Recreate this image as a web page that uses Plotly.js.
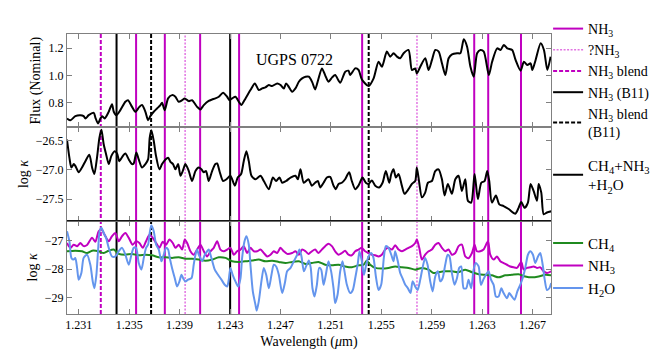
<!DOCTYPE html>
<html>
<head>
<meta charset="utf-8">
<script src="https://cdn.plot.ly/plotly-3.0.1.min.js"></script>
<style>
  html, body { margin: 0; padding: 0; background: white; }
  #chart { width: 672px; height: 350px; }
</style>
</head>
<body>
<div id="chart"></div>
<script>
// UGPS 0722 spectrum (top), total opacity (middle), per-molecule opacity (bottom)

const fluxWave = [1.23007, 1.23034, 1.23073, 1.23113, 1.23139, 1.23153, 1.23179, 1.23219, 1.23232, 1.23253,
    1.23272, 1.23285, 1.23306, 1.23338, 1.23364, 1.23378, 1.23399, 1.2343, 1.2347, 1.23491,
    1.23523, 1.23549, 1.23581, 1.23602, 1.23629, 1.2365, 1.23668, 1.23695, 1.23721, 1.23748,
    1.23761, 1.23782, 1.23809, 1.2384, 1.23867, 1.23893, 1.2392, 1.23941, 1.23973, 1.23999,
    1.24039, 1.24065, 1.24092, 1.24131, 1.24158, 1.24184, 1.24211, 1.24245, 1.24277, 1.24296,
    1.24317, 1.24343, 1.2437, 1.24389, 1.24423, 1.24462, 1.24497, 1.24528, 1.24555, 1.24581,
    1.24608, 1.24634, 1.24674, 1.24701, 1.24727, 1.24745, 1.24766, 1.24793, 1.24819, 1.24846,
    1.24872, 1.24899, 1.24925, 1.24952, 1.24975, 1.25, 1.25029, 1.25055, 1.25081, 1.2511,
    1.25134, 1.25174, 1.25214, 1.2524, 1.25253, 1.25293, 1.2532, 1.25346, 1.25399, 1.25439,
    1.25478, 1.25505, 1.25544, 1.25571, 1.25597, 1.25624, 1.2565, 1.25677, 1.25716, 1.25743,
    1.25769, 1.25782, 1.25809, 1.25849, 1.25875, 1.25902, 1.25928, 1.25955, 1.25981, 1.26008,
    1.26034, 1.26061, 1.26101, 1.26127, 1.26154, 1.2618, 1.26207, 1.26233, 1.2626, 1.26286,
    1.26313, 1.26353, 1.26379, 1.26419, 1.26446, 1.26472, 1.26499, 1.26538, 1.26565, 1.26605,
    1.26631, 1.26658, 1.26684, 1.26698, 1.26724, 1.26764, 1.2679, 1.26817, 1.26843];
const fluxValue = [0.684, 0.671, 0.701, 0.708, 0.701, 0.684, 0.708, 0.725, 0.691, 0.647,
    0.684, 0.701, 0.684, 0.733, 0.789, 0.733, 0.708, 0.745, 0.806, 0.818,
    0.769, 0.733, 0.769, 0.782, 0.733, 0.671, 0.701, 0.733, 0.757, 0.782,
    0.799, 0.745, 0.831, 0.855, 0.843, 0.806, 0.818, 0.831, 0.811, 0.818,
    0.769, 0.750, 0.782, 0.813, 0.823, 0.831, 0.843, 0.872, 0.843, 0.818,
    0.831, 0.843, 0.806, 0.782, 0.831, 0.892, 0.941, 0.892, 0.904, 0.912,
    0.929, 0.921, 0.941, 0.929, 0.904, 0.941, 0.916, 0.880, 0.904, 0.953,
    0.978, 0.990, 0.990, 0.950, 0.897, 0.970, 1.051, 1.000, 0.953, 0.985,
    1.002, 0.946, 1.027, 1.034, 1.002, 1.051, 1.039, 0.970, 0.921, 0.978,
    1.100, 1.063, 1.174, 1.137, 1.162, 1.137, 1.125, 1.162, 1.186, 1.039,
    1.051, 1.014, 1.063, 1.125, 1.039, 1.113, 1.186, 1.174, 1.088, 1.002,
    1.125, 1.154, 1.162, 1.162, 1.264, 1.211, 1.063, 0.990, 1.162, 1.186,
    1.174, 1.002, 1.100, 1.198, 1.186, 1.223, 1.198, 1.186, 1.113, 1.034,
    1.100, 1.076, 1.088, 1.039, 1.113, 1.235, 1.186, 1.039, 1.137];

const totWave = [1.23007, 1.23026, 1.23042, 1.23061, 1.23073, 1.231, 1.23126, 1.23153, 1.23184, 1.23206,
    1.23224, 1.23245, 1.23264, 1.2328, 1.23298, 1.23317, 1.23338, 1.23359, 1.23385, 1.23404,
    1.23422, 1.23444, 1.2347, 1.23497, 1.23523, 1.23536, 1.23557, 1.23576, 1.23602, 1.23629,
    1.2365, 1.23663, 1.23676, 1.23695, 1.23713, 1.2374, 1.23761, 1.23788, 1.23809, 1.23827,
    1.23848, 1.23867, 1.23888, 1.23907, 1.23925, 1.23946, 1.23973, 1.23999, 1.24026, 1.24052,
    1.24073, 1.24092, 1.2411, 1.24131, 1.24158, 1.24184, 1.24198, 1.24219, 1.24245, 1.24272,
    1.24303, 1.24338, 1.24361, 1.24388, 1.24409, 1.2443, 1.24449, 1.2447, 1.24502, 1.24542,
    1.24568, 1.24608, 1.2464, 1.24666, 1.24692, 1.24714, 1.24745, 1.2478, 1.24819, 1.24838,
    1.24859, 1.24885, 1.24922, 1.24949, 1.24975, 1.24997, 1.25015, 1.25042, 1.25068, 1.25094,
    1.25121, 1.25139, 1.25161, 1.25187, 1.25213, 1.25245, 1.25266, 1.25293, 1.25319, 1.25351,
    1.25377, 1.25399, 1.25425, 1.25452, 1.25483, 1.2551, 1.25536, 1.25563, 1.25579, 1.25597,
    1.25616, 1.25637, 1.25663, 1.25684, 1.25716, 1.25743, 1.25769, 1.25782, 1.25801, 1.25822,
    1.25848, 1.2587, 1.25901, 1.25928, 1.25954, 1.25981, 1.26002, 1.26028, 1.2606, 1.26087,
    1.26113, 1.26139, 1.26166, 1.26187, 1.26213, 1.2624, 1.26266, 1.26293, 1.26319, 1.2634,
    1.26356, 1.26377, 1.26409, 1.26436, 1.2647, 1.2651, 1.26563, 1.26589, 1.2661, 1.26637,
    1.26663, 1.26684, 1.26708, 1.26735, 1.26748, 1.26769, 1.26788, 1.26814, 1.26848];
const totKappa = [-26.48, -26.79, -26.96, -26.90, -26.93, -27.04, -26.96, -26.85, -26.74, -26.96,
    -27.07, -26.79, -26.45, -26.31, -26.56, -26.73, -26.90, -26.76, -26.68, -26.72,
    -26.85, -26.78, -26.72, -26.82, -26.90, -26.89, -26.70, -26.82, -26.96, -26.90,
    -26.82, -26.45, -26.32, -26.50, -26.76, -26.99, -26.90, -26.82, -26.79, -26.86,
    -26.90, -26.99, -26.90, -27.10, -27.02, -26.90, -27.02, -27.19, -27.02, -26.96,
    -26.99, -27.04, -27.02, -27.19, -27.02, -26.90, -26.89, -27.04, -27.19, -27.16,
    -27.10, -27.27, -27.13, -27.07, -26.85, -26.68, -26.85, -27.10, -27.16, -27.10,
    -27.19, -27.33, -27.13, -27.19, -27.13, -27.22, -27.19, -27.13, -27.10, -27.16,
    -26.99, -27.22, -27.16, -27.27, -27.22, -27.19, -27.30, -27.22, -27.13, -27.12,
    -27.27, -27.33, -27.24, -27.22, -27.16, -27.04, -27.19, -27.33, -27.27, -27.13,
    -27.22, -27.24, -27.18, -27.27, -27.30, -27.22, -27.02, -27.22, -27.07, -26.99,
    -27.13, -27.07, -27.27, -27.41, -27.33, -27.24, -27.19, -26.96, -27.22, -27.47,
    -27.39, -27.22, -27.19, -27.02, -26.99, -27.16, -27.44, -27.24, -27.41, -27.16,
    -27.10, -27.36, -27.16, -27.53, -27.56, -27.07, -27.50, -27.22, -27.19, -27.02,
    -27.19, -27.56, -27.44, -27.59, -27.62, -27.67, -27.75, -27.65, -27.55, -27.65,
    -27.56, -27.24, -27.36, -27.53, -27.24, -27.39, -27.76, -27.73, -27.71];

const ch4Wave = [1.23007, 1.23073, 1.23126, 1.23166, 1.23206, 1.23258, 1.23298, 1.23338, 1.23378, 1.23417,
    1.2347, 1.23523, 1.23576, 1.23629, 1.23682, 1.23735, 1.23788, 1.2384, 1.23893, 1.23946,
    1.23999, 1.24052, 1.24105, 1.24158, 1.24211, 1.24264, 1.24317, 1.2437, 1.24423, 1.24475,
    1.24528, 1.24581, 1.24634, 1.24687, 1.2474, 1.24793, 1.24846, 1.24899, 1.24949, 1.25002,
    1.25055, 1.25108, 1.25161, 1.25213, 1.25266, 1.25319, 1.25359, 1.25385, 1.25412, 1.25452,
    1.25504, 1.25557, 1.2561, 1.25663, 1.25716, 1.25769, 1.25822, 1.25875, 1.25915, 1.25954,
    1.26007, 1.2606, 1.26113, 1.26166, 1.26219, 1.26272, 1.26325, 1.26377, 1.2643, 1.26483,
    1.26536, 1.26589, 1.26642, 1.26695, 1.26748, 1.26801, 1.26848];
const ch4Kappa = [-27.38, -27.36, -27.38, -27.44, -27.36, -27.38, -27.44, -27.36, -27.32, -27.47,
    -27.50, -27.47, -27.52, -27.50, -27.52, -27.59, -27.59, -27.61, -27.59, -27.64,
    -27.64, -27.67, -27.71, -27.67, -27.59, -27.61, -27.73, -27.75, -27.73, -27.70,
    -27.67, -27.73, -27.71, -27.75, -27.79, -27.75, -27.73, -27.82, -27.79, -27.75,
    -27.85, -27.87, -27.85, -27.91, -27.94, -27.87, -27.85, -27.71, -27.85, -27.96,
    -27.98, -27.96, -27.91, -27.94, -27.96, -28.02, -27.96, -28.02, -28.14, -28.11,
    -28.08, -28.08, -28.11, -28.02, -28.11, -28.18, -28.20, -28.22, -28.29, -28.22,
    -28.20, -28.18, -28.26, -28.29, -28.26, -28.20, -28.22];

const nh3Wave = [1.23007, 1.23034, 1.2306, 1.23087, 1.23113, 1.23139, 1.23166, 1.23206, 1.23232, 1.23258,
    1.2328, 1.23311, 1.23338, 1.23364, 1.23391, 1.23417, 1.23444, 1.2347, 1.23497, 1.23528,
    1.23555, 1.23581, 1.23608, 1.23634, 1.23661, 1.23687, 1.23714, 1.2374, 1.23766, 1.23793,
    1.23819, 1.23846, 1.23867, 1.23893, 1.2392, 1.23941, 1.2396, 1.23986, 1.24012, 1.24039,
    1.24065, 1.24092, 1.24118, 1.24145, 1.24171, 1.24198, 1.24224, 1.24251, 1.24277, 1.24303,
    1.2433, 1.24356, 1.24383, 1.24409, 1.24436, 1.24462, 1.24489, 1.24515, 1.24542, 1.24568,
    1.24595, 1.24621, 1.24647, 1.24674, 1.247, 1.24727, 1.24753, 1.24793, 1.24819, 1.24846,
    1.24872, 1.24899, 1.24922, 1.24949, 1.24975, 1.25002, 1.25028, 1.25055, 1.25081, 1.25108,
    1.25134, 1.25161, 1.25187, 1.25213, 1.2524, 1.25266, 1.25293, 1.25319, 1.25346, 1.25372,
    1.25399, 1.25425, 1.25452, 1.25478, 1.25504, 1.25531, 1.25557, 1.25584, 1.2561, 1.25637,
    1.25663, 1.2569, 1.25716, 1.25743, 1.25769, 1.25782, 1.25801, 1.25822, 1.25848, 1.25875,
    1.25901, 1.25928, 1.25954, 1.25981, 1.26007, 1.26034, 1.2606, 1.26087, 1.26113, 1.26139,
    1.26166, 1.26192, 1.26219, 1.2624, 1.26258, 1.26285, 1.26311, 1.26346, 1.26364, 1.26391,
    1.26417, 1.26444, 1.2647, 1.26497, 1.26523, 1.26549, 1.26576, 1.2661, 1.26629, 1.26655,
    1.26682, 1.26708, 1.26735, 1.26761, 1.26788, 1.26814, 1.26848];
const nh3Kappa = [-27.09, -27.26, -27.15, -27.20, -27.09, -27.20, -27.16, -26.91, -27.05, -26.68,
    -26.62, -26.85, -27.03, -26.85, -26.74, -27.03, -26.85, -26.74, -26.91, -27.15,
    -27.03, -27.09, -27.26, -27.03, -26.80, -26.91, -27.09, -27.26, -27.05, -27.15,
    -26.97, -27.09, -27.26, -27.15, -27.32, -26.97, -27.09, -27.38, -27.50, -27.32,
    -27.15, -27.38, -27.56, -27.38, -27.26, -27.03, -27.32, -27.38, -27.32, -27.26,
    -27.50, -27.38, -27.32, -27.20, -27.44, -27.26, -27.38, -27.38, -27.32, -27.44,
    -27.56, -27.50, -27.38, -27.44, -27.26, -27.38, -27.47, -27.44, -27.38, -27.50,
    -27.32, -27.38, -27.47, -27.38, -27.32, -27.44, -27.32, -27.20, -27.12, -27.20,
    -27.38, -27.50, -27.44, -27.36, -27.50, -27.52, -27.38, -27.32, -27.26, -27.38,
    -27.44, -27.50, -27.52, -27.56, -27.50, -27.32, -27.26, -27.32, -27.17, -27.32,
    -27.38, -27.32, -27.26, -27.20, -27.09, -26.97, -27.26, -27.67, -27.50, -27.38,
    -27.32, -27.15, -27.09, -27.26, -27.38, -27.32, -27.50, -27.44, -27.20, -27.15,
    -27.56, -27.62, -27.44, -27.15, -27.38, -27.38, -27.32, -27.03, -27.50, -27.67,
    -27.56, -27.73, -27.79, -27.85, -27.91, -27.94, -27.96, -27.75, -28.02, -27.96,
    -27.94, -27.91, -27.96, -27.94, -28.08, -28.14, -28.08];

const h2oWave = [1.23007, 1.23026, 1.23042, 1.2306, 1.23073, 1.23087, 1.231, 1.23121, 1.23139, 1.23166,
    1.23192, 1.23211, 1.23224, 1.2324, 1.23253, 1.23266, 1.2328, 1.23298, 1.23317, 1.23338,
    1.23364, 1.23391, 1.23417, 1.23444, 1.2347, 1.23497, 1.23518, 1.23536, 1.23555, 1.23576,
    1.23597, 1.23616, 1.23634, 1.2365, 1.23663, 1.23676, 1.23695, 1.23714, 1.23735, 1.23756,
    1.23774, 1.23793, 1.23809, 1.23822, 1.2384, 1.23862, 1.2388, 1.23899, 1.23915, 1.23928,
    1.23946, 1.23967, 1.23994, 1.24012, 1.24026, 1.24039, 1.24052, 1.24065, 1.24079, 1.241,
    1.24118, 1.24131, 1.24152, 1.24179, 1.24205, 1.24232, 1.24258, 1.24277, 1.2429, 1.24303,
    1.24321, 1.24343, 1.24365, 1.24383, 1.24396, 1.24415, 1.2443, 1.24449, 1.24462, 1.24481,
    1.24502, 1.24512, 1.24528, 1.24549, 1.24568, 1.24587, 1.24608, 1.24629, 1.24647, 1.24666,
    1.24687, 1.24714, 1.24735, 1.24753, 1.2478, 1.24806, 1.24833, 1.24851, 1.24867, 1.24886,
    1.24904, 1.24925, 1.2494, 1.24954, 1.2497, 1.24989, 1.25007, 1.25023, 1.25042, 1.2506,
    1.25081, 1.25102, 1.25121, 1.25134, 1.25153, 1.25174, 1.25192, 1.25208, 1.25227, 1.25253,
    1.25274, 1.25293, 1.25314, 1.25327, 1.25346, 1.25362, 1.2538, 1.25399, 1.2542, 1.25438,
    1.25457, 1.25478, 1.25499, 1.2552, 1.25536, 1.25557, 1.25579, 1.25597, 1.2561, 1.25631,
    1.2565, 1.25668, 1.2569, 1.25711, 1.25732, 1.25748, 1.25769, 1.25788, 1.25809, 1.25827,
    1.25848, 1.25867, 1.25888, 1.25907, 1.25928, 1.25949, 1.25967, 1.25986, 1.26007, 1.26026,
    1.26041, 1.2606, 1.26081, 1.261, 1.26118, 1.26134, 1.26153, 1.26174, 1.26192, 1.26213,
    1.26232, 1.2625, 1.26272, 1.2629, 1.26309, 1.2633, 1.26351, 1.2637, 1.26391, 1.26409,
    1.2643, 1.26452, 1.2647, 1.26497, 1.26515, 1.26536, 1.26557, 1.26579, 1.26602, 1.26621,
    1.26642, 1.26663, 1.26682, 1.26703, 1.26721, 1.26743, 1.26761, 1.2678, 1.26796, 1.26814,
    1.26833, 1.26848];
const h2oKappa = [-26.68, -27.03, -27.61, -27.67, -27.61, -27.96, -28.37, -28.14, -27.61, -27.50,
    -27.85, -28.43, -28.67, -28.20, -27.38, -26.68, -26.56, -26.74, -26.91, -27.26,
    -27.56, -27.56, -27.38, -27.26, -27.50, -27.85, -27.50, -27.26, -27.26, -27.79,
    -28.02, -27.61, -27.26, -27.15, -26.74, -26.47, -26.68, -27.15, -27.32, -27.73,
    -27.50, -27.26, -27.32, -27.61, -27.96, -28.32, -28.61, -28.43, -28.20, -28.32,
    -28.43, -28.37, -28.32, -27.85, -27.50, -27.32, -27.50, -27.61, -27.73, -27.50,
    -27.38, -27.32, -27.61, -28.02, -28.20, -28.37, -28.55, -28.61, -28.37, -27.96,
    -28.20, -28.43, -28.61, -28.32, -27.61, -27.03, -26.85, -27.15, -27.85, -28.78,
    -29.25, -29.45, -29.13, -28.43, -27.96, -28.20, -28.67, -28.20, -27.85, -27.91,
    -28.20, -28.84, -28.49, -28.08, -27.96, -27.73, -27.50, -27.32, -27.56, -28.08,
    -27.90, -27.70, -27.95, -28.67, -28.96, -28.55, -27.96, -28.02, -28.55, -28.20,
    -27.73, -28.08, -28.67, -29.19, -28.90, -28.08, -27.73, -28.08, -28.55, -28.84,
    -28.73, -28.32, -27.79, -27.38, -27.73, -28.20, -27.85, -27.56, -27.44, -27.61,
    -28.26, -28.73, -28.55, -27.61, -27.20, -27.26, -27.50, -27.73, -27.38, -27.73,
    -28.14, -28.32, -28.55, -28.67, -28.84, -28.43, -28.61, -28.73, -28.37, -27.96,
    -27.61, -27.85, -28.43, -28.78, -28.26, -28.08, -28.43, -28.32, -27.85, -27.50,
    -27.56, -28.14, -28.55, -28.32, -27.96, -27.91, -28.67, -28.67, -28.37, -28.67,
    -28.02, -27.79, -27.91, -28.55, -28.37, -28.20, -28.08, -28.37, -28.55, -28.96,
    -28.96, -28.67, -28.84, -29.02, -28.84, -28.96, -29.07, -28.78, -28.55, -28.32,
    -27.96, -27.50, -27.38, -27.50, -27.79, -27.56, -27.44, -27.85, -28.37, -28.73,
    -28.67, -28.49];

// line identifications (vertical markers)
const nh3Lines = [1.23555, 1.23783, 1.24063, 1.24372, 1.25348, 1.26237, 1.26348, 1.26608];
const nh3QueryLines = [1.23944, 1.25783];
const nh3BlendLines = [1.23275];
const b11Lines = [1.2340, 1.24301];
const b11BlendLines = [1.23674, 1.2540];

const MAGENTA = '#c000c0';
const VIOLET = '#e273e2';
const GREEN = '#1f8a1f';
const BLUE = '#6495ed';
const FRAME = '#808080';
const FONT = 'Liberation Serif, Times New Roman, serif';

const markerStyles = [
    { lines: nh3Lines, name: 'NH<sub>3</sub>', color: MAGENTA, dash: 'solid', width: 2 },
    { lines: nh3QueryLines, name: '?NH<sub>3</sub>', color: VIOLET, dash: '2px,1.5px', width: 1.5 },
    { lines: nh3BlendLines, name: 'NH<sub>3</sub> blend', color: MAGENTA, dash: '4px,2px', width: 2 },
    { lines: b11Lines, name: 'NH<sub>3</sub> (B11)', color: 'black', dash: 'solid', width: 2 },
    { lines: b11BlendLines, name: 'NH<sub>3</sub> blend<br>(B11)', color: 'black', dash: '4px,2px', width: 2 }
];

const shapes = [];
markerStyles.forEach(s => {
    s.lines.forEach(w => {
        shapes.push({
            type: 'line', xref: 'x', yref: 'paper',
            x0: w, x1: w, y0: 0, y1: 1,
            line: { color: s.color, width: s.width, dash: s.dash },
            layer: 'below'
        });
    });
});
// darker border between middle and bottom panel
shapes.push({
    type: 'line', xref: 'paper', yref: 'paper', x0: 0, x1: 1, y0: 1 / 3, y1: 1 / 3,
    line: { color: 'black', width: 1 }
});

const traces = [];

traces.push({
    x: fluxWave, y: fluxValue, xaxis: 'x', yaxis: 'y',
    type: 'scatter', mode: 'lines', showlegend: false,
    line: { color: 'black', width: 2, shape: 'spline', smoothing: 0.7 }
});

// legend entries for the identification lines
markerStyles.forEach(s => {
    traces.push({
        x: [null], y: [null], xaxis: 'x', yaxis: 'y',
        type: 'scatter', mode: 'lines', name: s.name, legend: 'legend',
        line: { color: s.color, width: s.width, dash: s.dash }
    });
});

traces.push({
    x: totWave, y: totKappa, xaxis: 'x2', yaxis: 'y2',
    type: 'scatter', mode: 'lines', name: 'CH<sub>4</sub>+NH<sub>3</sub><br>+H<sub>2</sub>O',
    legend: 'legend2',
    line: { color: 'black', width: 2, shape: 'spline', smoothing: 0.7 }
});

traces.push({
    x: ch4Wave, y: ch4Kappa, xaxis: 'x3', yaxis: 'y3',
    type: 'scatter', mode: 'lines', name: 'CH<sub>4</sub>', legend: 'legend3',
    line: { color: GREEN, width: 2, shape: 'spline', smoothing: 0.7 }
});
traces.push({
    x: nh3Wave, y: nh3Kappa, xaxis: 'x3', yaxis: 'y3',
    type: 'scatter', mode: 'lines', name: 'NH<sub>3</sub>', legend: 'legend3',
    line: { color: MAGENTA, width: 2, shape: 'spline', smoothing: 0.7 }
});
traces.push({
    x: h2oWave, y: h2oKappa, xaxis: 'x3', yaxis: 'y3',
    type: 'scatter', mode: 'lines', name: 'H<sub>2</sub>O', legend: 'legend3',
    line: { color: BLUE, width: 2, shape: 'spline', smoothing: 0.7 }
});

const xRange = [1.23007, 1.26846];

const xCommon = {
    range: xRange,
    tick0: 1.231, dtick: 0.004, tickformat: '.3f',
    ticks: 'inside', ticklen: 5, tickcolor: FRAME, tickwidth: 1,
    showline: true, linecolor: FRAME, linewidth: 1, mirror: 'ticks',
    showgrid: false, zeroline: false
};
const yCommon = {
    ticks: 'inside', ticklen: 5, tickcolor: FRAME, tickwidth: 1,
    showline: true, linecolor: FRAME, linewidth: 1, mirror: 'ticks',
    showgrid: false, zeroline: false, automargin: true
};

const legendCommon = {
    x: 0.994, xanchor: 'left', yanchor: 'top',
    bgcolor: 'rgba(0,0,0,0)', borderwidth: 0,
    font: { family: FONT, size: 15, color: 'black' },
    itemwidth: 30
};

const layout = {
    width: 672, height: 350,
    margin: { l: 67, r: 121, t: 34, b: 36 },
    paper_bgcolor: 'white', plot_bgcolor: 'rgba(0,0,0,0)',
    font: { family: FONT, size: 12, color: 'black' },
    xaxis: Object.assign({}, xCommon, { anchor: 'y', showticklabels: false }),
    xaxis2: Object.assign({}, xCommon, { anchor: 'y2', matches: 'x', showticklabels: false }),
    xaxis3: Object.assign({}, xCommon, {
        anchor: 'y3', matches: 'x',
        title: { text: 'Wavelength (<i>μ</i>m)', font: { size: 14 } }
    }),
    yaxis: Object.assign({}, yCommon, {
        domain: [2 / 3, 1], anchor: 'x', range: [0.619, 1.303],
        tickvals: [0.8, 1.0, 1.2], tickformat: '.1f',
        title: { text: 'Flux (Nominal)', font: { size: 14 }, standoff: 4 }
    }),
    yaxis2: Object.assign({}, yCommon, {
        domain: [1 / 3, 2 / 3], anchor: 'x2', range: [-27.87, -26.27],
        tickvals: [-27.5, -27.0, -26.5], tickformat: '.1f',
        title: { text: 'log <i>κ</i>', font: { size: 14 }, standoff: 3 }
    }),
    yaxis3: Object.assign({}, yCommon, {
        domain: [0, 1 / 3], anchor: 'x3', range: [-29.57, -26.31],
        tickvals: [-29, -28, -27], tickformat: 'd',
        title: { text: 'log <i>κ</i>', font: { size: 14 }, standoff: 3 }
    }),
    legend: Object.assign({}, legendCommon, { y: 1.075, font: { family: FONT, size: 14, color: 'black' } }),
    legend2: Object.assign({}, legendCommon, { y: 0.59 }),
    legend3: Object.assign({}, legendCommon, { y: 0.312 }),
    shapes: shapes,
    annotations: [{
        x: 1.24809, y: 1.1125, xref: 'x', yref: 'y',
        text: 'UGPS 0722', showarrow: false,
        font: { family: FONT, size: 16, color: 'black' }
    }]
};

Plotly.newPlot('chart', traces, layout, { displayModeBar: false, staticPlot: true });
</script>
</body>
</html>
